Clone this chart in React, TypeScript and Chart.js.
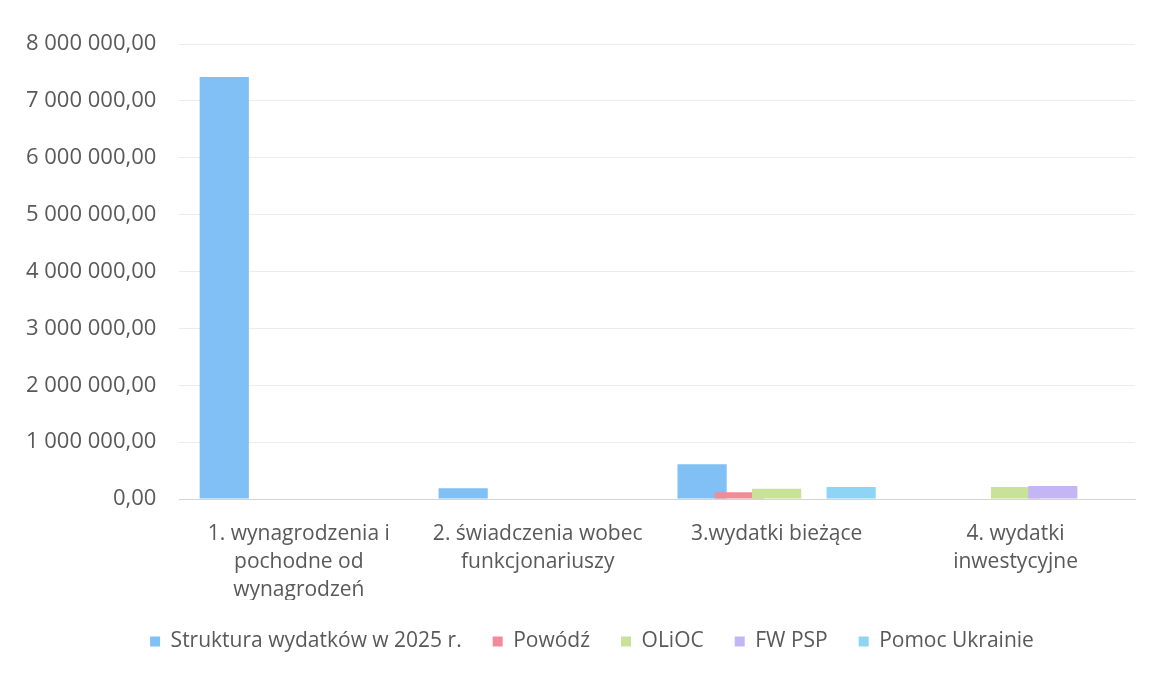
import React, { useEffect, useRef } from "react";
import { Chart, registerables } from "chart.js";

Chart.register(...registerables);

const categories: string[][] = [
  ["1. wynagrodzenia i", "pochodne od", "wynagrodzeń"],
  ["2. świadczenia wobec", "funkcjonariuszy"],
  ["3.wydatki bieżące"],
  ["4. wydatki", "inwestycyjne"],
];

const seriesNames = ["Struktura wydatków w 2025 r.", "Powódź", "OLiOC", "FW PSP", "Pomoc Ukrainie"];

const struktura = [7420000, 190000, 610000, 0];
const powodz = [0, 0, 120000, 0];
const olioc = [0, 0, 180000, 210000];
const fwpsp = [0, 0, 0, 230000];
const pomocUkrainie = [0, 0, 210000, 0];

const seriesColors = ["#80c0f4", "#f08c98", "#c8e29a", "#c4b6f4", "#8ed4f4"];

const yMax = 8000000;
const yStep = 1000000;

function formatPl(v: number): string {
  const fixed = Math.abs(v).toFixed(2);
  const [intPart, dec] = fixed.split(".");
  const withSpaces = intPart.replace(/\B(?=(\d{3})+(?!\d))/g, " ");
  return (v < 0 ? "-" : "") + withSpaces + "," + dec;
}

const drawInIndexOrder = {
  id: "drawInIndexOrder",
  afterLayout(chart: any) {
    if (chart.legend) {
      chart.legend.left += 23;
      chart.legend.right += 23;
    }
  },
  beforeDatasetsDraw(chart: any) {
    const metas = chart.getSortedVisibleDatasetMetas().slice().sort((a: any, b: any) => a.index - b.index);
    const ctx = chart.ctx;
    const a = chart.chartArea;
    ctx.save();
    ctx.beginPath();
    ctx.rect(a.left, a.top - 2, a.right - a.left, a.bottom - a.top + 2);
    ctx.clip();
    metas.forEach((m: any) => m.controller.draw());
    ctx.restore();
    return false;
  },
};

export default function App() {
  const ref = useRef<HTMLCanvasElement | null>(null);

  useEffect(() => {
    if (!ref.current) return;
    const all = [struktura, powodz, olioc, fwpsp, pomocUkrainie];
    const chart = new Chart(ref.current, {
      type: "bar",
      data: {
        labels: categories,
        datasets: all.map((d, i) => ({
          label: seriesNames[i],
          data: d,
          backgroundColor: seriesColors[i],
          borderWidth: 0,
          categoryPercentage: 0.78,
          barPercentage: 1.32,
        })),
      },
      plugins: [drawInIndexOrder],
      options: {
        animation: false,
        responsive: false,
        maintainAspectRatio: false,
        layout: { padding: { top: 44, left: 3, right: 22, bottom: 21 } },
        plugins: {
          legend: {
            position: "bottom",
            labels: {
              boxWidth: 10,
              boxHeight: 10,
              padding: 31,
              color: "#595959",
              font: { family: "'Open Sans', sans-serif", size: 21 },
            },
          },
          tooltip: { enabled: false },
        },
        scales: {
          x: {
            grid: { display: false, drawTicks: false },
            border: { display: true, color: "#d4d4d4" },
            afterFit: (scale: any) => {
              scale.height = 101;
            },
            ticks: {
              color: "#595959",
              padding: 21,
              maxRotation: 0,
              autoSkip: false,
              font: { family: "'Open Sans', sans-serif", size: 21, lineHeight: 1.33 },
            },
          },
          y: {
            min: 0,
            max: yMax,
            grid: { color: "#ececec", drawTicks: false },
            border: { display: false },
            ticks: {
              stepSize: yStep,
              padding: 23,
              color: "#595959",
              font: { family: "'Open Sans', sans-serif", size: 22 },
              callback: (v: any) => formatPl(Number(v)),
            },
          },
        },
      },
    });
    return () => chart.destroy();
  }, []);

  return (
    <div style={{ position: "fixed", left: 0, top: 0, width: 1157, height: 683, background: "#fff" }}>
      <canvas ref={ref} width={1157} height={683} style={{ display: "block" }} />
    </div>
  );
}
